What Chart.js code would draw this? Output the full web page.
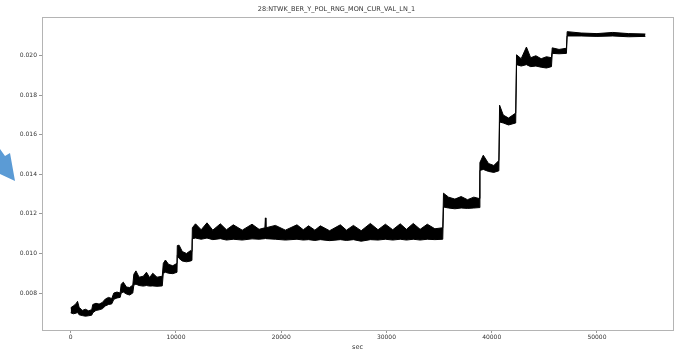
<!DOCTYPE html>
<html>
<head>
<meta charset="utf-8">
<title>28:NTWK_BER_Y_POL_RNG_MON_CUR_VAL_LN_1</title>
<script src="https://cdn.jsdelivr.net/npm/chart.js@4/dist/chart.umd.min.js"></script>
<style>
  html, body { margin: 0; padding: 0; background: #fff; }
  canvas { display: block; }
</style>
</head>
<body>
<canvas id="berChart" width="684" height="351"></canvas>
<script>
// BER readings over time, kept as the high/low envelope of the noisy trace
const secs = [
  0, 250, 500, 650, 800, 1100, 1400, 1700, 2000, 2100, 2400, 2700, 3000, 3300, 3600, 3900,
  4100, 4400, 4700, 4800, 5000, 5300, 5600, 5900, 6000, 6200, 6500, 6900, 7200, 7500, 7800,
  8200, 8700, 8800, 9000, 9300, 9700, 10100, 10130, 10300, 10600, 11000, 11400, 11520,
  11560, 11860, 12400, 12950, 13500, 14220, 14800, 15450, 16300, 17230, 17900, 18450, 18500,
  18550, 19450, 20400, 21500, 22100, 22600, 23200, 23720, 24600, 25620, 26200, 26860, 27600,
  28470, 29200, 29900, 30600, 31310, 31900, 32550, 33200, 33880, 34600, 35350,
  35420, 35900, 36500, 37100, 37700, 38300, 38800,
  38880, 39200, 39700, 40200, 40680,
  40750, 41100, 41600, 42280,
  42360, 42800, 43300, 43700, 44200, 44700, 45200, 45680,
  45750, 46400, 47100,
  47170, 48500, 50000, 51500, 53000, 54600
];
const upper = [
  0.00725, 0.00735, 0.00745, 0.00758, 0.00728, 0.00712, 0.00718, 0.00710, 0.00716, 0.00742, 0.00748, 0.00744, 0.00752, 0.00770, 0.00778, 0.00772,
  0.00800, 0.00805, 0.00800, 0.00845, 0.00855, 0.00830, 0.00828, 0.00840, 0.00895, 0.00912, 0.00880, 0.00885, 0.00905, 0.00878, 0.00900,
  0.00880, 0.00885, 0.00950, 0.00967, 0.00945, 0.00938, 0.00950, 0.01040, 0.01042, 0.01010, 0.01000, 0.01015, 0.01010,
  0.01130, 0.01150, 0.01120, 0.01155, 0.01118, 0.01150, 0.01120, 0.01145, 0.01118, 0.01148, 0.01122, 0.01130, 0.01180,
  0.01130, 0.01142, 0.01118, 0.01145, 0.01120, 0.01140, 0.01118, 0.01140, 0.01115, 0.01145, 0.01118, 0.01142, 0.01115,
  0.01152, 0.01120, 0.01148, 0.01120, 0.01150, 0.01122, 0.01152, 0.01122, 0.01148, 0.01125, 0.01130,
  0.01305, 0.01285, 0.01275, 0.01288, 0.01272, 0.01285, 0.01278,
  0.01460, 0.01497, 0.01455, 0.01445, 0.01470,
  0.01750, 0.01700, 0.01685, 0.01710,
  0.02005, 0.01985, 0.02044, 0.01990, 0.02000, 0.01985, 0.01995, 0.01990,
  0.02040, 0.02032, 0.02038,
  0.02122, 0.02115, 0.02112, 0.02118, 0.02112, 0.02110
];
const lower = [
  0.00700, 0.00695, 0.00698, 0.00702, 0.00690, 0.00686, 0.00683, 0.00685, 0.00688, 0.00700, 0.00712, 0.00715, 0.00720, 0.00735, 0.00742, 0.00745,
  0.00768, 0.00775, 0.00778, 0.00800, 0.00805, 0.00795, 0.00790, 0.00800, 0.00840, 0.00845, 0.00838, 0.00835, 0.00838, 0.00835, 0.00836,
  0.00834, 0.00836, 0.00900, 0.00905, 0.00900, 0.00898, 0.00905, 0.00990, 0.00975, 0.00962, 0.00958, 0.00962, 0.00965,
  0.01075, 0.01078, 0.01072, 0.01078, 0.01070, 0.01075, 0.01068, 0.01072, 0.01068, 0.01074, 0.01072, 0.01075, 0.01078,
  0.01075, 0.01072, 0.01068, 0.01072, 0.01068, 0.01070, 0.01066, 0.01070, 0.01065, 0.01070, 0.01066, 0.01070, 0.01062,
  0.01070, 0.01068, 0.01072, 0.01068, 0.01072, 0.01068, 0.01072, 0.01068, 0.01072, 0.01070, 0.01072,
  0.01235, 0.01230, 0.01226, 0.01230, 0.01228, 0.01230, 0.01232,
  0.01420, 0.01425, 0.01415, 0.01410, 0.01418,
  0.01665, 0.01660, 0.01650, 0.01660,
  0.01955, 0.01948, 0.01955, 0.01945, 0.01948, 0.01942, 0.01938, 0.01945,
  0.02012, 0.02010, 0.02012,
  0.02100, 0.02100, 0.02098, 0.02100, 0.02096, 0.02098
];

const yTicks = [0.008, 0.010, 0.012, 0.014, 0.016, 0.018, 0.020];
const xTicks = [0, 10000, 20000, 30000, 40000, 50000];

const chartTitle = '28:NTWK_BER_Y_POL_RNG_MON_CUR_VAL_LN_1';
const xTitle = 'sec';

const tickFont = { family: 'DejaVu Sans', size: 6 };
const textColor = '#333';

// frame around the plot area plus the blue pointer on the left margin
const frameAndArrow = {
  id: 'frameAndArrow',
  afterDraw(chart) {
    const { ctx, chartArea: a } = chart;
    ctx.save();
    ctx.strokeStyle = '#b4b4b4';
    ctx.lineWidth = 1;
    ctx.strokeRect(Math.round(a.left) + 0.5, Math.round(a.top) + 0.5,
      Math.round(a.right - a.left), Math.round(a.bottom - a.top));
    ctx.fillStyle = '#5b9bd5';
    ctx.beginPath();
    ctx.moveTo(0, 149);
    ctx.lineTo(5, 156);
    ctx.lineTo(10, 153);
    ctx.lineTo(15, 181);
    ctx.lineTo(0, 174);
    ctx.closePath();
    ctx.fill();
    ctx.restore();
  }
};

const toPoints = ys => secs.map((s, i) => ({ x: s, y: ys[i] }));

new Chart(document.getElementById('berChart').getContext('2d'), {
  type: 'line',
  data: {
    datasets: [
      {
        data: toPoints(upper),
        borderColor: '#000',
        borderWidth: 1,
        pointRadius: 0,
        tension: 0,
        fill: false
      },
      {
        data: toPoints(lower),
        borderColor: '#000',
        borderWidth: 1,
        backgroundColor: '#000',
        pointRadius: 0,
        tension: 0,
        fill: '-1'
      }
    ]
  },
  options: {
    responsive: false,
    animation: false,
    devicePixelRatio: 1,
    layout: { padding: { left: 0, right: 11, top: 0, bottom: 0 } },
    plugins: {
      legend: { display: false },
      tooltip: { enabled: false },
      title: {
        display: true,
        text: chartTitle,
        color: textColor,
        font: { family: 'DejaVu Sans', size: 6.5, weight: 'normal' },
        padding: { top: 5, bottom: 4.2 }
      }
    },
    scales: {
      x: {
        type: 'linear',
        min: -2725,
        max: 57225,
        afterFit: s => { s.height = 21; },
        afterBuildTicks: s => { s.ticks = xTicks.map(v => ({ value: v })); },
        ticks: {
          font: tickFont,
          color: textColor,
          padding: 1,
          maxRotation: 0,
          callback: v => String(v)
        },
        grid: { drawOnChartArea: false, tickLength: 3, color: '#999' },
        border: { display: false },
        title: {
          display: true,
          text: xTitle,
          color: textColor,
          font: { family: 'DejaVu Sans', size: 6.5 },
          padding: { top: 0, bottom: 0 }
        }
      },
      y: {
        type: 'linear',
        min: 0.00613,
        max: 0.02196,
        afterFit: s => { s.width = 42; },
        afterBuildTicks: s => { s.ticks = yTicks.map(v => ({ value: v })); },
        ticks: {
          font: tickFont,
          color: textColor,
          padding: 2,
          callback: v => v.toFixed(3)
        },
        grid: { drawOnChartArea: false, tickLength: 3, color: '#999' },
        border: { display: false }
      }
    }
  },
  plugins: [frameAndArrow]
});
</script>
</body>
</html>
